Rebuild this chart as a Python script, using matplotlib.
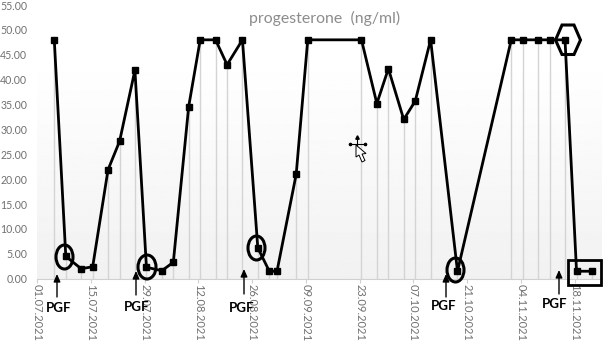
"""progesterone curve with hand-drawn PGF marks"""

from datetime import datetime

import numpy as np
import matplotlib
matplotlib.use("Agg")
import matplotlib.dates as mdates
import matplotlib.pyplot as plt
from matplotlib.patches import Ellipse, Polygon, Rectangle

dates = [
    "05.07.2021", "08.07.2021", "12.07.2021", "15.07.2021", "19.07.2021",
    "22.07.2021", "26.07.2021", "29.07.2021", "02.08.2021", "05.08.2021",
    "09.08.2021", "12.08.2021", "16.08.2021", "19.08.2021", "23.08.2021",
    "27.08.2021", "30.08.2021", "01.09.2021", "06.09.2021", "09.09.2021",
    "23.09.2021", "27.09.2021", "30.09.2021", "04.10.2021", "07.10.2021",
    "11.10.2021", "18.10.2021", "01.11.2021", "04.11.2021", "08.11.2021",
    "11.11.2021", "15.11.2021", "18.11.2021", "22.11.2021",
]
progesterone = [
    48.0, 4.5, 2.0, 2.4, 21.9, 27.6, 41.9, 2.3, 1.6, 3.3,
    34.6, 48.0, 48.0, 43.0, 48.0, 6.2, 1.5, 1.5, 21.0, 48.0,
    48.0, 35.2, 42.2, 32.0, 35.7, 48.0, 1.5, 48.0, 48.0, 48.0,
    48.0, 48.0, 1.5, 1.5,
]
tick_dates = [
    "01.07.2021", "15.07.2021", "29.07.2021", "12.08.2021", "26.08.2021",
    "09.09.2021", "23.09.2021", "07.10.2021", "21.10.2021", "04.11.2021",
    "18.11.2021",
]
y_ticks = [0, 5, 10, 15, 20, 25, 30, 35, 40, 45, 50, 55]
title = "progesterone  (ng/ml)"

W, H = 604, 343
GRAY = "#707070"
plt.rcParams["font.family"] = ["Lato", "DejaVu Sans"]


def to_num(labels):
    return mdates.date2num([datetime.strptime(s, "%d.%m.%Y") for s in labels])


fig = plt.figure(figsize=(W / 100, H / 100), dpi=100)
ax = fig.add_axes([37 / W, (H - 278.7) / H, 564.5 / W, 273.7 / H])

# points sit in the middle of their day slot, ticks on the slot edge
x = to_num(dates) + 0.5
ticks = to_num(tick_dates)
x0 = ticks[0]

# pale background fading out towards the top
grad = np.interp(np.linspace(0, 1, 200), [0, 0.7, 1], [0.945, 0.985, 1.0])[:, None]
ax.imshow(grad, origin="lower", aspect="auto", cmap="gray", vmin=0, vmax=1,
          extent=[x0, x0 + 147, 0, 45], zorder=0)
ax.set_xlim(x0, x0 + 147)
ax.set_ylim(0, 55)

ax.vlines(x, 0, progesterone, color="#d4d4d4", linewidth=1.0, zorder=1)
ax.plot(x, progesterone, color="black", linewidth=2.0, marker="s", markersize=4.5,
        zorder=3)

for s in ["top", "right", "left"]:
    ax.spines[s].set_visible(False)
ax.spines["bottom"].set_color("#d0d0d0")

ax.set_xticks(ticks)
ax.set_xticklabels(tick_dates, rotation=270, fontsize=8, color=GRAY)
ax.tick_params(axis="x", length=3, width=0.8, color="#d0d0d0", pad=1)
ax.set_yticks(y_ticks)
ax.set_yticklabels([f"{v:.2f}" for v in y_ticks], fontsize=7.6, color=GRAY)
ax.tick_params(axis="y", length=0, pad=7)
for lab in ax.get_xticklabels():
    lab.set_horizontalalignment("center")

fig.text(325 / W, 1 - 18 / H, title, fontsize=11.4, color="#8c8c8c",
         ha="center", va="center")

# overlay in pixel coordinates for the marks drawn on top of the chart
ov = fig.add_axes([0, 0, 1, 1], facecolor="none")
ov.set_xlim(0, W)
ov.set_ylim(H, 0)
ov.axis("off")

for cx, cy, w, h in [(64.5, 257, 17, 24), (147, 267, 18, 24),
                     (256.5, 248, 17, 24), (455.5, 270, 17, 24)]:
    ov.add_patch(Ellipse((cx, cy), w, h, fill=False, ec="black", lw=2.2))

ov.add_patch(Rectangle((567.5, 260), 33, 24.5, fill=False, ec="black", lw=2.0))
ov.add_patch(Polygon([(555.5, 40), (562, 25), (574, 25), (580.5, 40), (574, 54.5), (562, 54.5)],
                     closed=True, fill=False, ec="black", lw=2.2))

for ax_x, y_from, y_to in [(57, 297, 274), (136, 295, 271), (244, 294, 269),
                           (446, 297, 274), (559, 294, 270)]:
    ov.annotate("", xy=(ax_x, y_to), xytext=(ax_x, y_from),
                arrowprops=dict(arrowstyle="-|>,head_width=0.2,head_length=0.45",
                                color="black", lw=1.0, shrinkA=0, shrinkB=0))

for tx, ty in [(58.7, 308), (137, 307), (242, 308), (444, 306), (555, 304)]:
    ov.text(tx, ty, "PGF", fontsize=9.6, fontweight="bold", color="black",
            ha="center", va="center")

# mouse pointer left in the screenshot
ov.plot([350, 364], [143.5, 143.5], color="black", lw=0.8)
ov.plot([357, 357], [137, 150], color="black", lw=0.8)
ov.plot([349.5, 364.5], [143.5, 143.5], ls="none", marker="o", ms=1.6, color="black")
ov.plot([357], [136.5], ls="none", marker="^", ms=2.5, color="black")
ov.add_patch(Polygon([(356, 145), (356, 157), (359, 155), (362, 162), (365, 160.5),
                      (362, 154), (366, 153.5)],
                     closed=True, fc="white", ec="black", lw=0.7, zorder=5))

fig.savefig("out.png", dpi=100)
